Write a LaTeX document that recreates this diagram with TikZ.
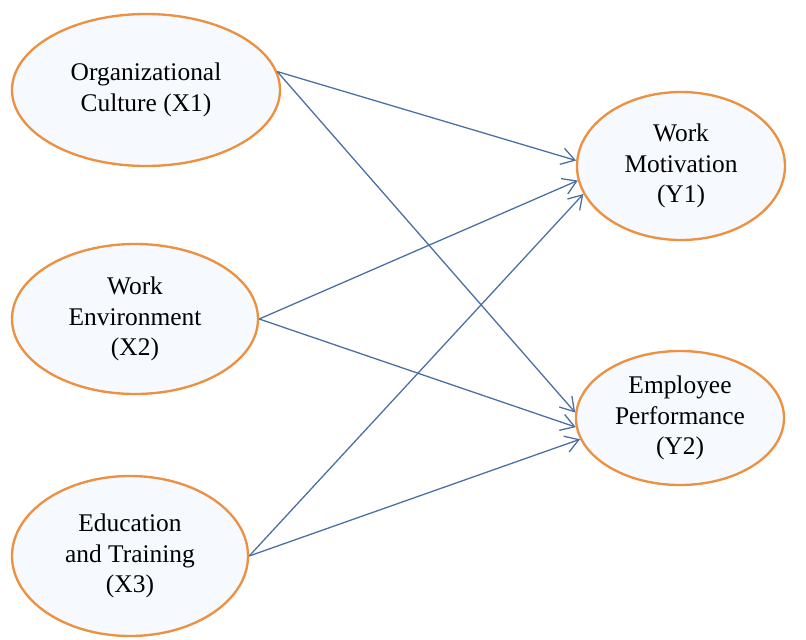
\documentclass[tikz,border=0pt]{standalone}
\usepackage{fontspec}
\setmainfont{Liberation Serif}
\usetikzlibrary{shapes.geometric,arrows.meta}
\definecolor{rand}{RGB}{235,145,65}
\definecolor{fuell}{RGB}{246,250,255}
\definecolor{pfeil}{RGB}{75,110,165}
\tikzset{
    konstrukt/.style={ellipse, draw=rand, fill=fuell, line width=2pt, inner sep=0pt,
        align=center, font=\fontsize{21.7}{26}\selectfont},
    pfad/.style={draw=pfeil, line width=1.1pt, -{Straight Barb[length=4mm,width=5mm]}}
}
\begin{document}
\begin{tikzpicture}[x=0.03cm, y=-0.03cm]
    \useasboundingbox (0,0) rectangle (806,639);

    % Unabhaengige Variablen (links)
    \node[konstrukt, minimum width=8.04cm, minimum height=4.56cm] (x1) at (146,90) {Organizational\\Culture (X1)};
    \node[konstrukt, minimum width=7.38cm, minimum height=4.5cm] (x2) at (135,319) {Work\\Environment\\(X2)};
    \node[konstrukt, minimum width=7.08cm, minimum height=4.8cm] (x3) at (130,556) {Education\\and Training\\(X3)};

    % Abhaengige Variablen (rechts)
    \node[konstrukt, minimum width=6.24cm, minimum height=4.44cm] (y1) at (681,166) {Work\\Motivation\\(Y1)};
    \node[konstrukt, minimum width=6.24cm, minimum height=4.02cm] (y2) at (680,418) {Employee\\Performance\\(Y2)};

    % Pfade zeichnen lassen
    \foreach \von/\nach in {x1.8/y1.177, x1.8/y2.177,
                            x2.0/y1.188, x2.0/y2.185,
                            x3.0/y1.196, x3.0/y2.192}
        {
            \draw[pfad] (\von) -- (\nach);
        }

\end{tikzpicture}
\end{document}
